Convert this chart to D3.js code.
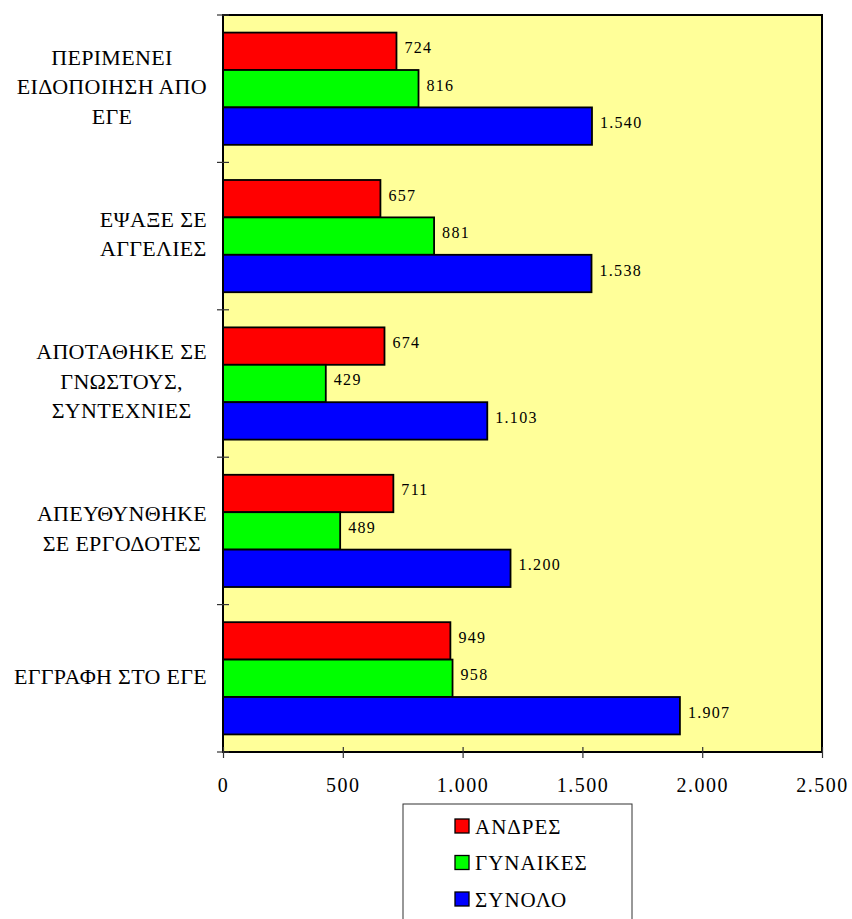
<!DOCTYPE html>
<html>
<head>
<meta charset="utf-8">
<script src="https://cdn.jsdelivr.net/npm/d3@7"></script>
<style>
  body { margin: 0; background: #fff; }
  svg text { font-family: "Liberation Serif", "Times New Roman", Tinos, "DejaVu Serif", "Noto Serif", serif; fill: #000; }
</style>
</head>
<body>
<div id="chart"></div>
<script>
(function () {

  /***** Data *****/
  var categories = [
    ["ΠΕΡΙΜΕΝΕΙ", "ΕΙΔΟΠΟΙΗΣΗ ΑΠΟ", "ΕΓΕ"],
    ["ΕΨΑΞΕ ΣΕ", "ΑΓΓΕΛΙΕΣ"],
    ["ΑΠΟΤΑΘΗΚΕ ΣΕ", "ΓΝΩΣΤΟΥΣ,", "ΣΥΝΤΕΧΝΙΕΣ"],
    ["ΑΠΕΥΘΥΝΘΗΚΕ", "ΣΕ ΕΡΓΟΔΟΤΕΣ"],
    ["ΕΓΓΡΑΦΗ ΣΤΟ ΕΓΕ"]
  ]
  var seriesNames = ["ΑΝΔΡΕΣ", "ΓΥΝΑΙΚΕΣ", "ΣΥΝΟΛΟ"]
  var seriesColors = ["#ff0000", "#00ff00", "#0000ff"]
  var men = [724, 657, 674, 711, 949]
  var women = [816, 881, 429, 489, 958]
  var total = [1540, 1538, 1103, 1200, 1907]
  var xTicks = [0, 500, 1000, 1500, 2000, 2500]

  /***** Configuration *****/
  var margin = { top: 15, right: 30, bottom: 167, left: 223 }
  var width = 852 - margin.left - margin.right
  var height = 919 - margin.top - margin.bottom

  var locale = d3.formatLocale({ decimal: ",", thousands: ".", grouping: [3], currency: ["", "€"] })
  var fmt = locale.format(",")

  var keys = categories.map(function (c) { return c.join(" ") })
  var values = [men, women, total]

  var x = d3.scaleLinear().domain([0, 2500]).range([0, width])
  var y0 = d3.scaleBand().domain(keys).range([0, height]).padding(0)
  var y1 = d3.scaleBand().domain(seriesNames).range([0, y0.bandwidth()])
    .paddingInner(0).paddingOuter(0.47)

  var svg = d3.select("#chart").append("svg")
    .attr("width", 852).attr("height", 919)

  var g = svg.append("g")
    .attr("transform", "translate(" + margin.left + "," + margin.top + ")")

  // plot background
  g.append("rect")
    .attr("width", width).attr("height", height)
    .attr("fill", "#ffff99")

  // bars
  var groups = g.selectAll(".grp").data(keys).enter().append("g")
    .attr("class", "grp")
    .attr("transform", function (d) { return "translate(0," + y0(d) + ")" })

  groups.each(function (key, i) {
    var sel = d3.select(this)
    seriesNames.forEach(function (s, j) {
      var v = values[j][i]
      sel.append("rect")
        .attr("x", x(0))
        .attr("y", y1(s))
        .attr("width", x(v) - x(0))
        .attr("height", y1.bandwidth())
        .attr("fill", seriesColors[j])
        .attr("stroke", "#000")
        .attr("stroke-width", 1.8)
      sel.append("text")
        .attr("x", x(v) + 8)
        .attr("y", y1(s) + y1.bandwidth() / 2 + 2)
        .attr("font-size", 16)
        .attr("letter-spacing", 1.3)
        .text(fmt(v))
    })
  })

  // frame
  g.append("rect")
    .attr("width", width).attr("height", height)
    .attr("fill", "none")
    .attr("stroke", "#000")
    .attr("stroke-width", 2)

  // y ticks at group boundaries
  var yBounds = keys.map(function (k) { return y0(k) }).concat([height])
  g.selectAll(".ytick").data(yBounds).enter().append("line")
    .attr("x1", -6).attr("x2", 6)
    .attr("y1", function (d) { return d }).attr("y2", function (d) { return d })
    .attr("stroke", "#333").attr("stroke-width", 1.2)

  // x axis
  var xAxis = d3.axisBottom(x).tickValues(xTicks).tickFormat(fmt).tickSize(6).tickPadding(20)
  var ax = g.append("g").attr("transform", "translate(0," + height + ")").call(xAxis)
  ax.attr("font-family", null).attr("font-size", null)
  ax.select(".domain").remove()
  ax.selectAll(".tick line").attr("y1", -5).attr("stroke", "#333").attr("stroke-width", 1.2)
  ax.selectAll(".tick text")
    .attr("font-size", 20)
    .attr("letter-spacing", 1.5)
    .attr("fill", "#000")

  // category labels
  var lineH = 29.5
  var labelRight = -16
  categories.forEach(function (lines, i) {
    var cy = y0(keys[i]) + y0.bandwidth() / 2 - 2
    var t = g.append("text")
      .attr("font-size", 22)
      .attr("letter-spacing", 0.3)
      .attr("text-anchor", "middle")
    var first = cy - (lines.length - 1) * lineH / 2 + 7.3
    lines.forEach(function (ln, k) {
      t.append("tspan").attr("x", 0).attr("y", first + k * lineH).text(ln)
    })
    var maxW = 0
    t.selectAll("tspan").each(function () {
      maxW = Math.max(maxW, this.getComputedTextLength())
    })
    t.selectAll("tspan").attr("x", labelRight - maxW / 2)
  })

  // legend
  var lg = svg.append("g").attr("transform", "translate(403,804)")
  lg.append("rect")
    .attr("width", 229).attr("height", 130)
    .attr("fill", "#fff")
    .attr("stroke", "#333").attr("stroke-width", 1)
  var ly = d3.scalePoint().domain(seriesNames).range([22, 95])
  seriesNames.forEach(function (s, j) {
    lg.append("rect")
      .attr("x", 52).attr("y", ly(s) - 7)
      .attr("width", 14).attr("height", 14)
      .attr("fill", seriesColors[j])
      .attr("stroke", "#000").attr("stroke-width", 1.3)
    lg.append("text")
      .attr("x", 72).attr("y", ly(s) + 7.5)
      .attr("font-size", 21)
      .attr("letter-spacing", 1)
      .text(s)
  })

})()
</script>
</body>
</html>
